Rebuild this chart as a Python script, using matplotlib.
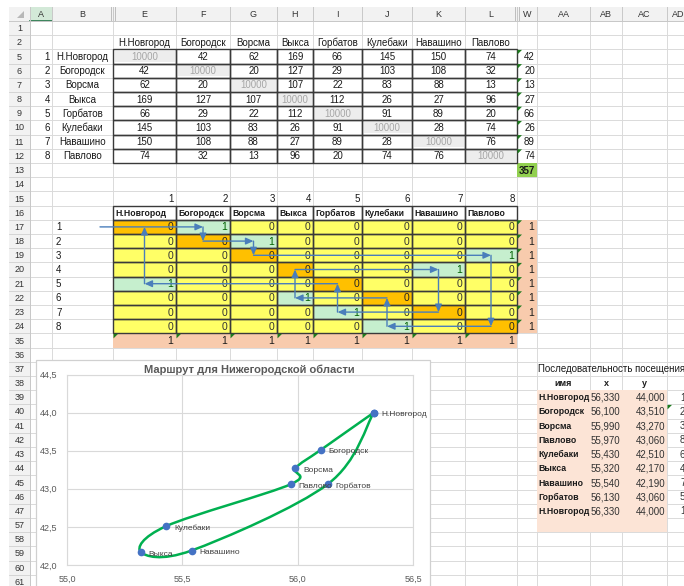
import matplotlib
matplotlib.use('Agg')
import matplotlib.pyplot as plt
from matplotlib.patches import Rectangle, Polygon, PathPatch, FancyArrowPatch
from matplotlib.path import Path
from matplotlib.ticker import MultipleLocator, FuncFormatter

plt.rcParams['font.family'] = ['Liberation Sans', 'DejaVu Sans']

# ---- data -------------------------------------------------------------
cities = ['Н.Новгород', 'Богородск', 'Ворсма', 'Выкса', 'Горбатов',
          'Кулебаки', 'Навашино', 'Павлово']
dist = [
    [10000, 42, 62, 169, 66, 145, 150, 74],
    [42, 10000, 20, 127, 29, 103, 108, 32],
    [62, 20, 10000, 107, 22, 83, 88, 13],
    [169, 127, 107, 10000, 112, 26, 27, 96],
    [66, 29, 22, 112, 10000, 91, 89, 20],
    [145, 103, 83, 26, 91, 10000, 28, 74],
    [150, 108, 88, 27, 89, 28, 10000, 76],
    [74, 32, 13, 96, 20, 74, 76, 10000],
]
edge_cost = [42, 20, 13, 27, 66, 26, 89, 74]
total_cost = 357
next_city = [2, 3, 8, 7, 1, 4, 5, 6]      # 1 in row i, column next_city[i]
row_sums = [1, 1, 1, 1, 1, 1, 1, 1]
col_sums = [1, 1, 1, 1, 1, 1, 1, 1]

route_idx = [1, 2, 3, 8, 6, 4, 7, 5, 1]
route_names = ['Н.Новгород', 'Богородск', 'Ворсма', 'Павлово', 'Кулебаки',
               'Выкса', 'Навашино', 'Горбатов', 'Н.Новгород']
route_x = [56.33, 56.10, 55.99, 55.97, 55.43, 55.32, 55.54, 56.13, 56.33]
route_y = [44.00, 43.51, 43.27, 43.06, 42.51, 42.17, 42.19, 43.06, 44.00]

# ---- sheet geometry (pixels) -----------------------------------------
cols = ['A', 'B', 'E', 'F', 'G', 'H', 'I', 'J', 'K', 'L', 'W', 'AA', 'AB', 'AC', 'AD']
col_edges = [30, 52, 113, 176, 230, 277, 313, 362, 412, 465, 517, 537, 590, 622, 667, 689]
rows = [1, 2] + list(range(5, 25)) + list(range(35, 48)) + list(range(57, 62))
ROW_TOP = 21
ROW_H = 14.2
mcols = cols[2:10]

W, H = 684, 586
fig = plt.figure(figsize=(W / 100, H / 100), dpi=100)
ax = fig.add_axes([0, 0, 1, 1])
ax.set_xlim(0, W)
ax.set_ylim(H, 0)
ax.axis('off')


def cx(c):
    i = cols.index(c)
    return col_edges[i], col_edges[i + 1]


def ry(r):
    k = rows.index(r)
    return ROW_TOP + k * ROW_H, ROW_TOP + (k + 1) * ROW_H


def fill(c, r, color, inset=0):
    x0, x1 = cx(c)
    y0, y1 = ry(r)
    ax.add_patch(Rectangle((x0 + inset, y0 + inset), x1 - x0 - 2 * inset, y1 - y0 - 2 * inset,
                           facecolor=color, edgecolor='none', zorder=1))


def box(c, r, lw=1.0, color='#3a3a3a'):
    x0, x1 = cx(c)
    y0, y1 = ry(r)
    ax.add_patch(Rectangle((x0, y0), x1 - x0, y1 - y0, facecolor='none',
                           edgecolor=color, lw=lw, zorder=3))


def put(c, r, s, ha='center', pad=2.5, **kw):
    x0, x1 = cx(c)
    y0, y1 = ry(r)
    x = {'center': (x0 + x1) / 2, 'left': x0 + pad, 'right': x1 - pad}[ha]
    kw.setdefault('fontsize', 7)
    kw.setdefault('color', '#1a1a1a')
    ax.text(x, (y0 + y1) / 2 + 0.5, s, ha=ha, va='center', zorder=5, **kw)


def tri(c, r):
    x0, _ = cx(c)
    y0, _ = ry(r)
    ax.add_patch(Polygon([(x0 + 0.5, y0 + 0.5), (x0 + 5, y0 + 0.5), (x0 + 0.5, y0 + 5)],
                         closed=True, facecolor='#1e7b1e', edgecolor='none', zorder=6))


# gridlines
grid_c = '#dadada'
for x in col_edges:
    ax.plot([x, x], [ROW_TOP, H], color=grid_c, lw=0.7, zorder=0)
for k in range(len(rows) + 1):
    y = ROW_TOP + k * ROW_H
    ax.plot([30, W], [y, y], color=grid_c, lw=0.7, zorder=0)

# headers
ax.add_patch(Rectangle((9, 7), W, ROW_TOP - 7, facecolor='#f2f2f2', edgecolor='none', zorder=1))
ax.add_patch(Rectangle((9, 7), 30 - 9, H, facecolor='#f2f2f2', edgecolor='none', zorder=1))
ax.add_patch(Rectangle((30, 7), 22, ROW_TOP - 7, facecolor='#d3e9d8', edgecolor='none', zorder=1))
ax.plot([30, 52], [ROW_TOP - 0.5, ROW_TOP - 0.5], color='#217346', lw=1.2, zorder=2)
ax.add_patch(Polygon([(24, 11), (24, 18), (17, 18)], closed=True, facecolor='#b8b8b8',
                     edgecolor='none', zorder=2))
for i, c in enumerate(cols):
    x0, x1 = col_edges[i], col_edges[i + 1]
    ax.plot([x0, x0], [7, ROW_TOP], color='#c8c8c8', lw=0.7, zorder=2)
    ax.text((x0 + x1) / 2, 14.5, c, ha='center', va='center', fontsize=6.5,
            color='#333333', zorder=5)
for x in (111, 114.5, 515, 518.5):
    ax.plot([x, x], [7, ROW_TOP], color='#bdbdbd', lw=0.7, zorder=2)
ax.plot([9, W], [ROW_TOP, ROW_TOP], color='#c8c8c8', lw=0.7, zorder=2)
for r in rows:
    y0, y1 = ry(r)
    ax.plot([9, 30], [y1, y1], color='#d0d0d0', lw=0.6, zorder=2)
    ax.text(19.5, (y0 + y1) / 2 + 0.5, str(r), ha='center', va='center', fontsize=6.5,
            color='#333333', zorder=5)
ax.plot([30, 30], [7, H], color='#c8c8c8', lw=0.7, zorder=2)

# distance matrix
for j, name in enumerate(cities):
    put(mcols[j], 2, name)
for i, name in enumerate(cities):
    r = 5 + i
    put('A', r, str(i + 1), ha='right', pad=2)
    put('B', r, name)
    for j in range(8):
        if i == j:
            fill(mcols[j], r, '#ededed', inset=1.5)
            put(mcols[j], r, str(dist[i][j]), color='#a6a6a6')
        else:
            put(mcols[j], r, str(dist[i][j]))
        box(mcols[j], r)
    put('W', r, str(edge_cost[i]), ha='right', pad=2)
    tri('W', r)
fill('W', 13, '#92d050')
put('W', 13, str(total_cost), ha='right', pad=2, fontweight='bold')

# assignment matrix
for j, name in enumerate(cities):
    put(mcols[j], 15, str(j + 1), ha='right', pad=2)
    put(mcols[j], 16, name, ha='left', pad=2, fontsize=6.2, fontweight='bold')
    box(mcols[j], 16)
for i in range(8):
    r = 17 + i
    put('B', r, str(i + 1), ha='left', pad=4)
    for j in range(8):
        v = 1 if next_city[i] == j + 1 else 0
        if i == j:
            color, tc = '#ffc000', '#262626'
        elif v:
            color, tc = '#c6efce', '#006100'
        else:
            color, tc = '#ffff66', '#333333'
        fill(mcols[j], r, color)
        box(mcols[j], r)
        put(mcols[j], r, str(v), ha='right', pad=2.5, fontsize=7.5, color=tc)
    fill('W', r, '#f8cbad')
    put('W', r, str(row_sums[i]), ha='right', pad=3, fontsize=7.5)
    tri('W', r)
for j in range(8):
    fill(mcols[j], 35, '#f8cbad')
    put(mcols[j], 35, str(col_sums[j]), ha='right', pad=3, fontsize=7.5)
    tri(mcols[j], 35)

# route arrows over the assignment matrix
arrow_c = '#4a7ebb'


def arrow(p, q):
    ax.add_patch(FancyArrowPatch(p, q, arrowstyle='-|>,head_length=0.45,head_width=0.2',
                                 mutation_scale=10, color=arrow_c, lw=1.0,
                                 shrinkA=0, shrinkB=0, zorder=7))


def ymid(r):
    y0, y1 = ry(r)
    return (y0 + y1) / 2


cur = 1
xprev = 100
for _ in range(8):
    nxt = next_city[cur - 1]
    x0, x1 = cx(mcols[nxt - 1])
    xn = (x0 + x1) / 2
    arrow((xprev, ymid(16 + cur)), (xn, ymid(16 + cur)))
    arrow((xn, ymid(16 + cur)), (xn, ymid(16 + nxt)))
    xprev = xn
    cur = nxt

# visiting sequence table
put('AA', 37, 'Последовательность посещения', ha='left', pad=1)
put('AA', 38, 'имя', fontweight='bold', fontsize=6.5)
put('AB', 38, 'x', fontweight='bold', fontsize=6.5)
put('AC', 38, 'y', fontweight='bold', fontsize=6.5)
y_top = ry(39)[0]
y_bot = ry(57)[1]
ax.add_patch(Rectangle((537, y_top), 667 - 537, y_bot - y_top, facecolor='#fce4d6',
                       edgecolor='none', zorder=1))
for k, name in enumerate(route_names):
    r = 39 + k
    put('AA', r, name, ha='left', pad=1, fontweight='bold', fontsize=6.3)
    put('AB', r, f'{route_x[k]:.3f}'.replace('.', ','), ha='right', pad=1.5, color='#333333')
    put('AC', r, f'{route_y[k]:.3f}'.replace('.', ','), ha='right', pad=1.5, color='#333333')
    put('AD', r, str(route_idx[k]), ha='left', pad=13, color='#333333')
tri('AD', 40)

# ---- chart -----------------------------------------------------------
ax.add_patch(Rectangle((36, 360), 430 - 36, 260, facecolor='white',
                       edgecolor='#d0d0d0', lw=0.9, zorder=8))
ax.text(249, 370, 'Маршрут для Нижегородской области', ha='center', va='center',
        fontsize=8, fontweight='bold', color='#595959', zorder=9)

px0, px1, py0, py1 = 67, 413, 374.5, 565
ch = fig.add_axes([px0 / W, 1 - py1 / H, (px1 - px0) / W, (py1 - py0) / H])
ch.patch.set_alpha(0)
ch.set_xlim(55.0, 56.5)
ch.set_ylim(42.0, 44.5)
ch.xaxis.set_major_locator(MultipleLocator(0.5))
ch.yaxis.set_major_locator(MultipleLocator(0.5))
fmt = FuncFormatter(lambda v, p: f'{v:.1f}'.replace('.', ','))
ch.xaxis.set_major_formatter(fmt)
ch.yaxis.set_major_formatter(fmt)
ch.tick_params(length=0, labelsize=6.5, labelcolor='#595959', pad=7)
ch.grid(True, color='#d9d9d9', lw=0.8)
ch.set_axisbelow(True)
for s in ch.spines.values():
    s.set_color('#d9d9d9')
    s.set_linewidth(0.8)

# smoothed route line (Catmull-Rom style, like Excel's smoothed scatter)
pts = list(zip(route_x, route_y))
n = len(pts)
verts = [pts[0]]
codes = [Path.MOVETO]
for i in range(n - 1):
    p0 = pts[i - 1] if i > 0 else pts[i]
    p1, p2 = pts[i], pts[i + 1]
    p3 = pts[i + 2] if i + 2 < n else pts[i + 1]
    c1 = (p1[0] + (p2[0] - p0[0]) / 6, p1[1] + (p2[1] - p0[1]) / 6)
    c2 = (p2[0] - (p3[0] - p1[0]) / 6, p2[1] - (p3[1] - p1[1]) / 6)
    verts += [c1, c2, p2]
    codes += [Path.CURVE4] * 3
ch.add_patch(PathPatch(Path(verts, codes), facecolor='none', edgecolor='#00b050', lw=1.8, zorder=3))
ch.plot(route_x, route_y, 'o', color='#4472c4', ms=4.5, zorder=4)
for k in range(n - 1):
    ch.annotate(route_names[k], (route_x[k], route_y[k]), xytext=(8, -2),
                textcoords='offset pixels', va='center', ha='left', fontsize=6,
                color='#404040', zorder=5, annotation_clip=False)

fig.savefig('out.png', dpi=100)
